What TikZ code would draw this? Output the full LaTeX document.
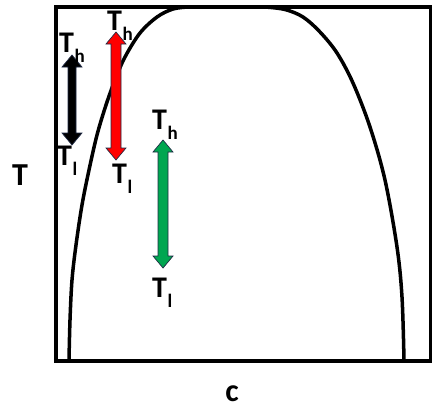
\documentclass[tikz,border=0pt]{standalone}
\usepackage{fontspec}
\setmainfont{Carlito}
\definecolor{edge}{HTML}{1F2A44}
\definecolor{grn}{HTML}{00A650}
\definecolor{rd}{HTML}{FF0000}
\newcommand\fatarrow[5]{% fill, x, ytop, ybottom, shaft half width
  \filldraw[fill=#1,draw=edge,line width=0.7pt,line join=miter]
    (#2,#3) -- (#2+10,#3+12) -- (#2+#5,#3+12) -- (#2+#5,#4-12) -- (#2+10,#4-12)
    -- (#2,#4) -- (#2-10,#4-12) -- (#2-#5,#4-12) -- (#2-#5,#3+12) -- (#2-10,#3+12) -- cycle;}
\newcommand\TT[1]{T\kern0.5pt\raisebox{-10pt}{\fontsize{19pt}{19pt}\selectfont #1}}
\begin{document}
\begin{tikzpicture}[x=1pt,y=-1pt,
  lab/.style={inner sep=0pt,anchor=base west,font=\fontsize{30pt}{30pt}\selectfont\bfseries},
  axis/.style={inner sep=0pt,anchor=base,font=\fontsize{32pt}{32pt}\selectfont\bfseries},
  curve/.style={line width=3.5pt,line cap=round}]
\useasboundingbox (0,0) rectangle (432,410);
% frame
\draw[line width=4pt] (55.5,7) rectangle (430.5,360.5);
% coexistence curve
\draw[curve] plot[smooth,tension=0.55] coordinates {(69,360) (70,320) (72,280) (76,245) (82,205) (89,170) (97,135) (106,105) (115,80) (125,57) (140,33) (157,17) (173,9) (188,7)};
\draw[curve] plot[smooth,tension=0.55] coordinates {(265,7) (285,9.5) (303,17) (320,32) (337,53) (353,83) (370,127) (385,180) (397,247) (402,297) (404,360)};
% arrows
\fatarrow{black}{72}{55}{145}{4}
\fatarrow{rd}{116}{32}{160}{5}
\fatarrow{grn}{163}{140}{268}{5}
% labels
\node[lab] (bh) at (59,52) {\TT{h}};
\node[lab] (bl) at (57,165) {\TT{l}};
\node[lab] (rh) at (107,30) {\TT{h}};
\node[lab] (rl) at (112,183) {\TT{l}};
\node[lab] (gh) at (152,129) {\TT{h}};
\node[lab] (gl) at (152,297) {\TT{l}};
\node[axis,anchor=base west] (T) at (12,185) {T};
\node[axis] (c) at (232,401) {c};
\end{tikzpicture}
\end{document}
